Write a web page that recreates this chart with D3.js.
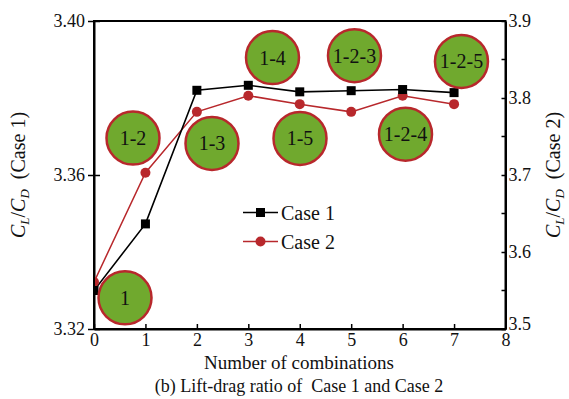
<!DOCTYPE html>
<html>
<head>
<meta charset="utf-8">
<script src="https://cdn.jsdelivr.net/npm/d3@7"></script>
<style>
  html, body { margin: 0; padding: 0; background: #fff; }
  svg { display: block; }
</style>
</head>
<body>
<svg id="chart" width="569" height="399"></svg>
<script>
// Number of combinations on the x axis
const combinations = [0, 1, 2, 3, 4, 5, 6, 7];
// Lift-drag ratio, Case 1 (left axis)
const case1 = [3.3300, 3.3473, 3.3820, 3.3833, 3.3816, 3.3819, 3.3822, 3.3814];
// Lift-drag ratio, Case 2 (right axis)
const case2 = [3.561, 3.703, 3.782, 3.803, 3.792, 3.782, 3.803, 3.792];

// Tick values
const xTicks = [0, 1, 2, 3, 4, 5, 6, 7, 8];
const leftTicks = [3.32, 3.36, 3.40];
const rightTicks = [3.5, 3.6, 3.7, 3.8, 3.9];
const rightMinorTicks = [3.55, 3.65, 3.75, 3.85];

// Combination badges: label, x in combinations, y on the Case 1 scale
const badgeLabels = ["1", "1-2", "1-3", "1-4", "1-5", "1-2-3", "1-2-4", "1-2-5"];
const badgeX = [0.603, 0.758, 2.294, 3.470, 4.005, 5.064, 6.056, 7.144];
const badgeY = [3.3281, 3.3696, 3.3682, 3.3905, 3.3695, 3.3910, 3.3706, 3.3895];

const svg = d3.select("#chart");
const plotLeft = 94, plotRight = 505.5, plotTop = 21, plotBottom = 329;

const x = d3.scaleLinear().domain([0, 8]).range([plotLeft, plotRight]);
const yL = d3.scaleLinear().domain([3.32, 3.40]).range([plotBottom, plotTop]);
const yR = d3.scaleLinear().domain([3.5, 3.9]).range([plotBottom, plotTop]);

const red = "#b8282c";
const green = "#70a92e";
const ink = "#111";
const serif = '"Liberation Serif", "Times New Roman", serif';

// Plot frame
svg.append("rect")
  .attr("x", plotLeft).attr("y", plotTop)
  .attr("width", plotRight - plotLeft).attr("height", plotBottom - plotTop)
  .attr("fill", "none").attr("stroke", "#000").attr("stroke-width", 2);

function styleAxis(g) {
  g.attr("font-family", null).attr("font-size", null);
  g.select(".domain").attr("stroke-width", 2);
  g.selectAll(".tick line").attr("stroke-width", 1.5);
  g.selectAll("text").attr("font-size", 18).attr("fill", ink);
}

// Bottom axis
const xAxis = svg.append("g")
  .attr("transform", `translate(0,${plotBottom})`)
  .call(d3.axisBottom(x).tickValues(xTicks).tickFormat(d3.format("d")).tickSizeInner(-5).tickSizeOuter(0));
styleAxis(xAxis);
xAxis.selectAll("text").attr("y", 17).attr("dy", 0);

// Left axis
const lAxis = svg.append("g")
  .attr("transform", `translate(${plotLeft},0)`)
  .call(d3.axisLeft(yL).tickValues(leftTicks).tickFormat(d3.format(".2f")).tickSizeInner(6).tickSizeOuter(0));
styleAxis(lAxis);
lAxis.selectAll(".tick line").attr("x1", -6).attr("x2", 6);
lAxis.selectAll("text").attr("x", -9);

// Right axis; the lowest label sits a little high to clear the "8"
const rAxis = svg.append("g")
  .attr("transform", `translate(${plotRight},0)`)
  .call(d3.axisRight(yR).tickValues(rightTicks).tickFormat(d3.format(".1f")).tickSizeInner(-4).tickSizeOuter(0));
styleAxis(rAxis);
rAxis.selectAll("text").attr("x", 3).attr("y", d => d === rightTicks[0] ? -5 : 0);
svg.append("g").selectAll("line").data(rightMinorTicks).join("line")
  .attr("x1", plotRight - 4).attr("x2", plotRight)
  .attr("y1", d => yR(d)).attr("y2", d => yR(d))
  .attr("stroke", "#000").attr("stroke-width", 1.5);

// Series, clipped to the plot area
svg.append("clipPath").attr("id", "plotClip")
  .append("rect").attr("x", plotLeft + 1).attr("y", plotTop).attr("width", plotRight - plotLeft).attr("height", plotBottom - plotTop);
const plot = svg.append("g").attr("clip-path", "url(#plotClip)");

const line1 = d3.line().x((d, i) => x(combinations[i])).y(d => yL(d));
const line2 = d3.line().x((d, i) => x(combinations[i])).y(d => yR(d));

plot.append("path").datum(case2).attr("d", line2)
  .attr("fill", "none").attr("stroke", red).attr("stroke-width", 1.5);
plot.append("path").datum(case1).attr("d", line1)
  .attr("fill", "none").attr("stroke", "#000").attr("stroke-width", 1.6);

plot.selectAll("circle.c2").data(case2).join("circle").attr("class", "c2")
  .attr("cx", (d, i) => x(combinations[i])).attr("cy", d => yR(d))
  .attr("r", 5).attr("fill", red);
plot.selectAll("rect.c1").data(case1).join("rect").attr("class", "c1")
  .attr("x", (d, i) => x(combinations[i]) - 4.5).attr("y", d => yL(d) - 4.5)
  .attr("width", 9).attr("height", 9).attr("fill", "#000");

// Combination badges
const badges = svg.append("g").selectAll("g").data(badgeLabels).join("g")
  .attr("transform", (d, i) => `translate(${x(badgeX[i])},${yL(badgeY[i])})`);
badges.append("circle").attr("r", 26.5)
  .attr("fill", green).attr("stroke", red).attr("stroke-width", 2.5);
badges.append("text").text(d => d)
  .attr("text-anchor", "middle").attr("dy", "0.35em")
  .attr("font-size", 20).attr("fill", ink);

// Legend
const legend = svg.append("g");
const legendRows = [
  { name: "Case 1", color: "#000", shape: "square", y: 212.5 },
  { name: "Case 2", color: red, shape: "circle", y: 241.5 }
];
legendRows.forEach(r => {
  legend.append("line").attr("x1", 243).attr("x2", 278).attr("y1", r.y).attr("y2", r.y)
    .attr("stroke", r.color).attr("stroke-width", 1.6);
  if (r.shape === "square") {
    legend.append("rect").attr("x", 260.5 - 4.5).attr("y", r.y - 4.5).attr("width", 9).attr("height", 9).attr("fill", r.color);
  } else {
    legend.append("circle").attr("cx", 260.5).attr("cy", r.y).attr("r", 5).attr("fill", r.color);
  }
  legend.append("text").attr("x", 281).attr("y", r.y).attr("dy", "0.35em")
    .attr("font-size", 20).attr("fill", ink).text(r.name);
});

// Axis titles
function ratioTitle(g, caseLabel) {
  const t = g.append("text").attr("text-anchor", "middle").attr("font-size", 20).attr("fill", ink);
  t.append("tspan").attr("font-style", "italic").text("C");
  t.append("tspan").attr("font-style", "italic").attr("font-size", 13).attr("dy", 4).text("L");
  t.append("tspan").attr("dy", -4).text("/");
  t.append("tspan").attr("font-style", "italic").text("C");
  t.append("tspan").attr("font-style", "italic").attr("font-size", 13).attr("dy", 4).text("D");
  t.append("tspan").attr("dy", -4).text("\u00a0\u00a0(" + caseLabel + ")");
  return t;
}
ratioTitle(svg.append("g").attr("transform", "translate(25,175) rotate(-90)"), "Case 1");
ratioTitle(svg.append("g").attr("transform", "translate(560,175) rotate(-90)"), "Case 2");

svg.append("text").attr("x", 299).attr("y", 369).attr("text-anchor", "middle")
  .attr("font-size", 19).attr("fill", ink).text("Number of combinations");
svg.append("text").attr("x", 299).attr("y", 392).attr("text-anchor", "middle")
  .attr("font-size", 18).attr("fill", ink).text("(b) Lift-drag ratio of\u00a0 Case 1 and Case 2");

// One serif face for every label
svg.selectAll("text").style("font-family", serif);
</script>
</body>
</html>
